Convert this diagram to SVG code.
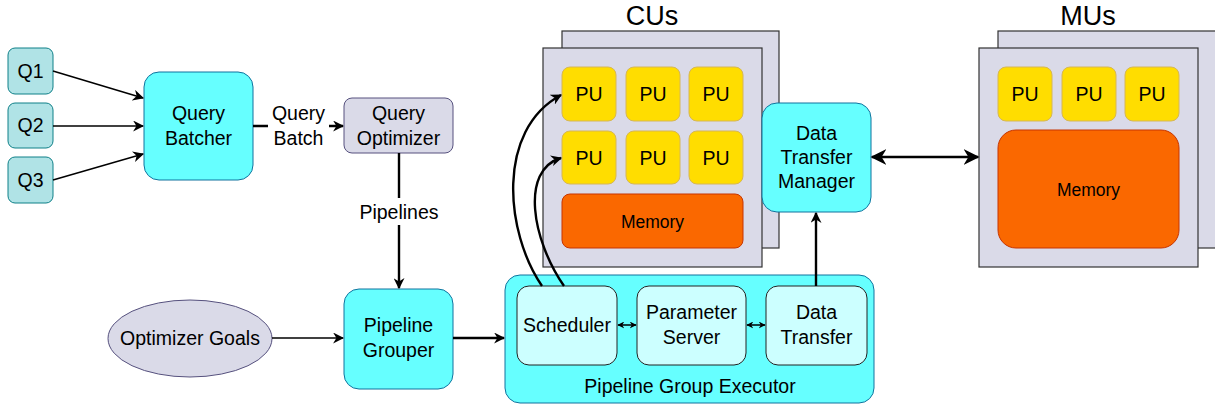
<svg xmlns="http://www.w3.org/2000/svg" width="1215" height="406" viewBox="0 0 1215 406">
  <defs>
    <marker id="arr" viewBox="0 0 10 10" refX="9" refY="5" markerWidth="11" markerHeight="11" markerUnits="userSpaceOnUse" orient="auto">
      <path d="M0,0 L10,5 L0,10 L3,5 Z" fill="#000"/>
    </marker>
    <marker id="arrS" viewBox="0 0 10 10" refX="9" refY="5" markerWidth="7" markerHeight="7" markerUnits="userSpaceOnUse" orient="auto-start-reverse">
      <path d="M0,0 L10,5 L0,10 L3,5 Z" fill="#000"/>
    </marker>
    <marker id="arrB" viewBox="0 0 10 10" refX="9" refY="5" markerWidth="16" markerHeight="16" markerUnits="userSpaceOnUse" orient="auto-start-reverse">
      <path d="M0,0 L10,5 L0,10 L3,5 Z" fill="#000"/>
    </marker>
  </defs>
  <style>
    text { font-family: "Liberation Sans", Arial, sans-serif; font-size: 19.5px; fill: #000; text-anchor: middle; }
    .q { fill: #b0e3e6; stroke: #0e8088; stroke-width: 1; }
    .cyan { fill: #66ffff; stroke: #10739e; stroke-width: 1; }
    .lav { fill: #dadae8; stroke: #56517e; stroke-width: 1; }
    .unit { fill: #dadae8; stroke: #333; stroke-width: 1.2; }
    .pu { fill: #ffdd00; stroke: #d6b656; stroke-width: 1; }
    .mem { fill: #fa6800; stroke: #c73500; stroke-width: 1; }
    .sub { fill: #ccffff; stroke: #222; stroke-width: 1; }
    .edge { fill: none; stroke: #000; stroke-width: 1.5; }
    .thick { fill: none; stroke: #000; stroke-width: 2.4; }
    .title { font-size: 27px; }
    .small { font-size: 17.5px; }
  </style>

  <!-- queries -->
  <g id="q1"><rect class="q" x="8" y="48" width="45" height="46" rx="7"/><text x="30.5" y="78">Q1</text></g>
  <g id="q2"><rect class="q" x="8" y="103" width="45" height="45" rx="7"/><text x="30.5" y="132">Q2</text></g>
  <g id="q3"><rect class="q" x="8" y="157" width="45" height="46" rx="7"/><text x="30.5" y="187">Q3</text></g>

  <g id="query-batcher"><rect class="cyan" x="144" y="72" width="109" height="108" rx="15"/><text x="198.5" y="120">Query</text><text x="198.5" y="145">Batcher</text></g>
  <g id="query-optimizer"><rect class="lav" x="344" y="98" width="109" height="55" rx="8"/><text x="398.5" y="120">Query</text><text x="398.5" y="145">Optimizer</text></g>

  <g id="optimizer-goals"><ellipse class="lav" cx="190" cy="338.5" rx="82" ry="38.5"/><text x="190" y="345">Optimizer Goals</text></g>
  <g id="pipeline-grouper"><rect class="cyan" x="344" y="289" width="109" height="100" rx="15"/><text x="398.5" y="332">Pipeline</text><text x="398.5" y="357">Grouper</text></g>

  <!-- executor -->
  <g id="pipeline-group-executor">
    <rect class="cyan" x="505" y="275" width="369" height="128" rx="15"/>
    <text x="690" y="393">Pipeline Group Executor</text>
  </g>
  <g id="scheduler"><rect class="sub" x="517" y="286" width="100" height="79" rx="12"/><text x="567" y="332">Scheduler</text></g>
  <g id="parameter-server"><rect class="sub" x="637" y="286" width="109" height="79" rx="12"/><text x="691.5" y="319">Parameter</text><text x="691.5" y="344">Server</text></g>
  <g id="data-transfer"><rect class="sub" x="766" y="286" width="101" height="79" rx="12"/><text x="816.5" y="319">Data</text><text x="816.5" y="344">Transfer</text></g>

  <!-- compute units -->
  <g id="cus">
    <text class="title" x="652" y="25">CUs</text>
    <rect class="unit" x="562" y="31" width="217" height="217"/>
    <rect class="unit" x="543" y="48" width="219" height="219"/>
    <rect class="pu" x="562" y="67" width="54" height="54" rx="8"/><text x="589" y="101">PU</text>
    <rect class="pu" x="626" y="67" width="54" height="54" rx="8"/><text x="653" y="101">PU</text>
    <rect class="pu" x="689" y="67" width="54" height="54" rx="8"/><text x="716" y="101">PU</text>
    <rect class="pu" x="562" y="131" width="54" height="53" rx="8"/><text x="589" y="165">PU</text>
    <rect class="pu" x="626" y="131" width="54" height="53" rx="8"/><text x="653" y="165">PU</text>
    <rect class="pu" x="689" y="131" width="54" height="53" rx="8"/><text x="716" y="165">PU</text>
    <rect class="mem" x="562" y="194" width="181" height="54" rx="8"/><text class="small" x="652.5" y="228">Memory</text>
  </g>

  <g id="data-transfer-manager"><rect class="cyan" x="762" y="103" width="109" height="109" rx="15"/><text x="816.5" y="140">Data</text><text x="816.5" y="164">Transfer</text><text x="816.5" y="188">Manager</text></g>

  <!-- memory units -->
  <g id="mus">
    <text class="title" x="1088" y="25">MUs</text>
    <rect class="unit" x="998" y="31" width="230" height="217"/>
    <rect class="unit" x="979" y="48" width="219" height="219"/>
    <rect class="pu" x="998" y="67" width="54" height="54" rx="8"/><text x="1025" y="101">PU</text>
    <rect class="pu" x="1062" y="67" width="54" height="54" rx="8"/><text x="1089" y="101">PU</text>
    <rect class="pu" x="1125" y="67" width="54" height="54" rx="8"/><text x="1152" y="101">PU</text>
    <rect class="mem" x="998" y="130" width="181" height="118" rx="18"/><text class="small" x="1088.5" y="196">Memory</text>
  </g>

  <!-- connectors -->
  <g id="connectors">
    <path class="edge" d="M53,71 L143,98" marker-end="url(#arr)"/>
    <path class="edge" d="M53,126 L143,126" marker-end="url(#arr)"/>
    <path class="edge" d="M53,180 L143,154" marker-end="url(#arr)"/>
    <path class="thick" d="M253,126 L343,126" marker-end="url(#arr)"/>
    <rect x="268" y="101" width="61" height="50" fill="#fff"/>
    <text x="298.5" y="120">Query</text><text x="298.5" y="145">Batch</text>
    <path class="thick" d="M399,153 L399,288" marker-end="url(#arr)"/>
    <rect x="355" y="198" width="88" height="27" fill="#fff"/>
    <text x="399" y="219">Pipelines</text>
    <path class="edge" d="M272,338 L343,338" marker-end="url(#arr)"/>
    <path class="thick" d="M453,338 L504,338" marker-end="url(#arr)"/>
    <path class="thick" d="M542,286 C505,232 496,130 561,95" marker-end="url(#arr)"/>
    <path class="thick" d="M564,286 C532,240 520,170 561,158" marker-end="url(#arr)"/>
    <path class="thick" d="M816,286 L816,213" marker-end="url(#arr)"/>
    <path class="edge" d="M618,325 L636,325" marker-start="url(#arrS)" marker-end="url(#arrS)"/>
    <path class="edge" d="M747,325 L765,325" marker-start="url(#arrS)" marker-end="url(#arrS)"/>
    <path class="edge" style="stroke-width:2.6" d="M872,157 L978,157" marker-start="url(#arrB)" marker-end="url(#arrB)"/>
  </g>
</svg>
